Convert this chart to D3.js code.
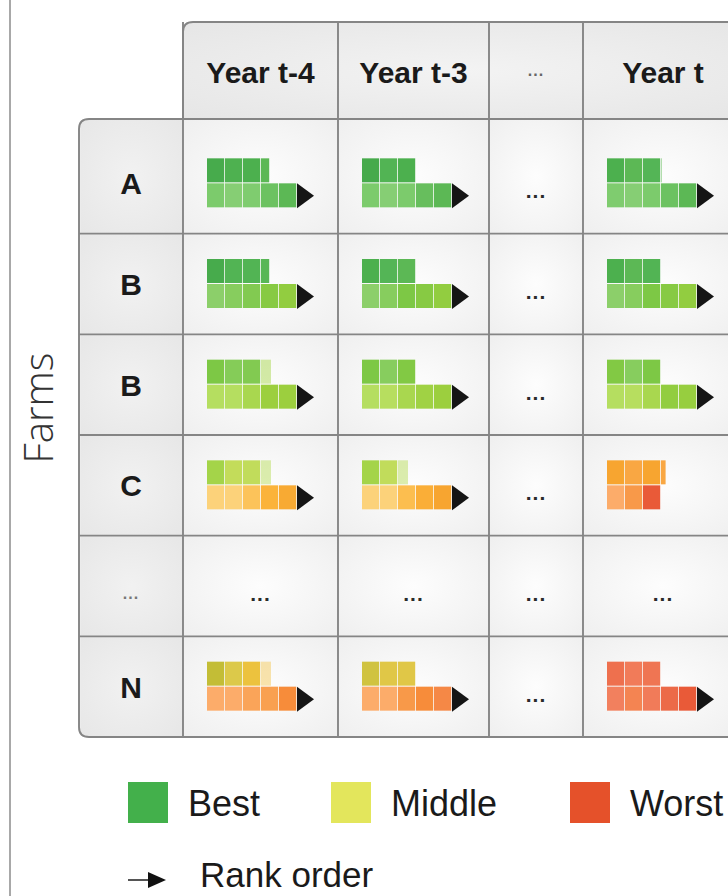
<!DOCTYPE html>
<html><head><meta charset="utf-8">
<script src="https://cdn.jsdelivr.net/npm/d3@7"></script>
<style>html,body{margin:0;padding:0;background:#fff;} svg{display:block}</style>
</head><body><svg id="chart" width="728" height="896"></svg>
<script>
// ---------------- DATA ----------------
const farms = ["A", "B", "B", "C", "...", "N"];
const years = ["Year t-4", "Year t-3", "...", "Year t"];
// rank score of each square: 0 = best ... 100 = worst (null = elided cell "...")
const topScores = [
  [[8, 11, 10, 18], [7, 13, 10], null, [10, 18, 14, 20]],
  [[8, 13, 13, 16], [10, 14, 18], null, [10, 18, 13]],
  [[36, 33, 34, 45], [36, 32, 37], null, [37, 32, 36]],
  [[44, 54, 53, 50], [44, 53, 50], null, [79, 80, 79, 80]],
  null,
  [[56, 60, 64, 67], [58, 61, 61], null, [94, 92, 93]]
];
// number of squares in the top row (fractional = partly filled last square)
const topCounts = [
  [3.5, 3.3, null, 3.1],
  [3.5, 3.3, null, 3.0],
  [3.6, 3.3, null, 3.0],
  [3.6, 2.6, null, 3.3],
  null,
  [3.6, 3.2, null, 3.0]
];
// last top square uncertain (faded)
const topFaded = [
  [false, false, null, true],
  [false, false, null, false],
  [true, false, null, false],
  [true, true, null, false],
  null,
  [true, false, null, false]
];
const bottomScores = [
  [[24, 27, 25, 21, 18], [24, 27, 24, 20, 18], null, [25, 27, 24, 21, 18]],
  [[30, 32, 34, 38, 40], [30, 32, 36, 38, 40], null, [30, 32, 36, 38, 40]],
  [[48, 48, 45, 42, 42], [48, 49, 45, 43, 42], null, [48, 49, 45, 40, 41]],
  [[70, 70, 73, 76, 78], [70, 70, 74, 77, 79], null, [82, 86, 98]],
  null,
  [[82, 82, 84, 85, 88], [82, 82, 86, 88, 89], null, [91, 90, 92, 95, 98]]
];
const rankArrow = [
  [true, true, null, true],
  [true, true, null, true],
  [true, true, null, true],
  [true, true, null, false],
  null,
  [true, true, null, true]
];
const legendLabels = ["Best", "Middle", "Worst"];
const arrowLabel = "Rank order";
const axisTitle = "Farms";

// ---------------- STYLE / LAYOUT ----------------
const scoreStops = [0, 8, 10, 14, 18, 24, 27, 30, 36, 42, 48, 54, 56, 60, 64, 70, 73, 76, 79, 82, 85, 88, 91, 95, 98, 100];
const scoreColors = ["#3e9f44", "#47ab4c", "#4cb04e", "#54b556", "#5cb855", "#7ccb6c", "#86ce74", "#8ccf6a",
  "#7dc845", "#9ccf3e", "#b5de60", "#c3dc5a", "#c3bd36", "#dcc94a", "#ecc23e", "#fcd27a", "#fcc35a",
  "#fbb33a", "#f7a530", "#fcac6a", "#f9a050", "#f78c3a", "#f2805e", "#ec6a48", "#e95a38", "#e4502a"];
const legendColors = ["#43b04b", "#e3e65c", "#e5512a"];
const legendX = [128, 331, 570];
const colWidths = [155, 151, 94, 160];
const tableX = 183, headTop = 22, bodyTop = 119, bodyBottom = 737, labelX = 79, tableRight = 745;
const sq = 18, glyphPad = 24, rowH = 24;
const lineCol = "#858585";
const FONT = "'Liberation Sans', Arial, Helvetica, sans-serif";

const color = d3.scaleLinear().domain(scoreStops).range(scoreColors).interpolate(d3.interpolateRgb);
const colStarts = d3.cumsum([0, ...colWidths.slice(0, -1)]).map(v => v + tableX);
const x = d3.scaleOrdinal().domain(d3.range(years.length)).range(colStarts);
const colW = d3.scaleOrdinal().domain(d3.range(years.length)).range(colWidths);
const y = d3.scaleBand().domain(d3.range(farms.length)).range([133, bodyBottom]).paddingInner(0);

const svg = d3.select("#chart");
const defs = svg.append("defs");
const cg = defs.append("radialGradient").attr("id", "cellBg").attr("cx", "50%").attr("cy", "50%").attr("r", "75%");
cg.append("stop").attr("offset", "0%").attr("stop-color", "#fdfdfd");
cg.append("stop").attr("offset", "100%").attr("stop-color", "#eeeeee");
const hg = defs.append("radialGradient").attr("id", "headBg").attr("cx", "50%").attr("cy", "50%").attr("r", "80%");
hg.append("stop").attr("offset", "0%").attr("stop-color", "#f3f3f3");
hg.append("stop").attr("offset", "100%").attr("stop-color", "#e4e4e4");

svg.append("rect").attr("width", 728).attr("height", 896).attr("fill", "#ffffff");
// page edge line
svg.append("line").attr("x1", 10).attr("x2", 10).attr("y1", 0).attr("y2", 896)
  .attr("stroke", "#a8a8a8").attr("stroke-width", 2);

const rowTop = i => i === 0 ? bodyTop : y(i);
const rowBot = i => i === farms.length - 1 ? bodyBottom : y(i) + y.bandwidth();

// header background (rounded top-left)
svg.append("path")
  .attr("d", `M${tableX},${bodyTop} V${headTop + 10} Q${tableX},${headTop} ${tableX + 10},${headTop} H${tableRight} V${bodyTop} Z`)
  .attr("fill", "url(#headBg)");
// label column background
svg.append("path")
  .attr("d", `M${tableX},${bodyTop} H${labelX + 10} Q${labelX},${bodyTop} ${labelX},${bodyTop + 10} V${bodyBottom - 10} Q${labelX},${bodyBottom} ${labelX + 10},${bodyBottom} H${tableX} Z`)
  .attr("fill", "#ebebeb");
svg.append("g").selectAll("rect").data(farms).join("rect")
  .attr("x", labelX + 2).attr("y", (d, i) => rowTop(i) + 1)
  .attr("width", tableX - labelX - 3).attr("height", (d, i) => rowBot(i) - rowTop(i) - 2)
  .attr("fill", "url(#headBg)").attr("opacity", 0.8);

// body cells
const cells = [];
farms.forEach((f, r) => years.forEach((yr, c) => cells.push({ r, c })));
svg.append("g").selectAll("rect").data(cells).join("rect")
  .attr("x", d => x(d.c)).attr("y", d => rowTop(d.r))
  .attr("width", d => colW(d.c)).attr("height", d => rowBot(d.r) - rowTop(d.r))
  .attr("fill", "url(#cellBg)");

// grid lines
const grid = svg.append("g").attr("stroke", lineCol).attr("stroke-width", 1.9).attr("fill", "none");
grid.selectAll("line.h").data(d3.range(1, farms.length)).join("line")
  .attr("x1", labelX).attr("x2", tableRight).attr("y1", i => y(i)).attr("y2", i => y(i));
grid.selectAll("line.v").data(d3.range(0, years.length)).join("line")
  .attr("x1", i => x(i)).attr("x2", i => x(i)).attr("y1", headTop).attr("y2", bodyBottom);
grid.append("line").attr("x1", tableX).attr("x2", tableRight).attr("y1", bodyTop).attr("y2", bodyTop);
grid.append("path")
  .attr("d", `M${tableX},${bodyTop} V${headTop + 10} Q${tableX},${headTop} ${tableX + 10},${headTop} H${tableRight}`);
grid.append("path")
  .attr("d", `M${tableX},${bodyTop} H${labelX + 10} Q${labelX},${bodyTop} ${labelX},${bodyTop + 10} V${bodyBottom - 10} Q${labelX},${bodyBottom} ${labelX + 10},${bodyBottom} H${tableRight}`);

// header labels
svg.append("g").selectAll("text").data(years).join("text")
  .attr("x", (d, i) => x(i) + colW(i) / 2)
  .attr("y", d => d === "..." ? 76 : 83)
  .attr("text-anchor", "middle")
  .attr("font-family", FONT).attr("font-weight", "bold")
  .attr("font-size", d => d === "..." ? 16 : 30)
  .attr("fill", d => d === "..." ? "#666" : "#1a1a1a")
  .attr("letter-spacing", d => d === "..." ? 1 : 0)
  .text(d => d);

// row labels
svg.append("g").selectAll("text").data(farms).join("text")
  .attr("x", (labelX + tableX) / 2)
  .attr("y", (d, i) => y(i) + y.bandwidth() / 2 + (d === "..." ? 13 : 11))
  .attr("text-anchor", "middle")
  .attr("font-family", FONT).attr("font-weight", "bold")
  .attr("font-size", d => d === "..." ? 16 : 30)
  .attr("fill", d => d === "..." ? "#777" : "#1a1a1a")
  .attr("letter-spacing", d => d === "..." ? 1 : 0)
  .text(d => d);

// cells content
const glyphs = svg.append("g");
cells.forEach(({ r, c }) => {
  const cx0 = x(c), cy = y(r) + y.bandwidth() / 2;
  const top = topScores[r] ? topScores[r][c] : null;
  if (!top) {
    glyphs.append("text").attr("x", cx0 + colW(c) / 2).attr("y", cy + 15)
      .attr("text-anchor", "middle").attr("font-family", FONT).attr("font-weight", "bold")
      .attr("font-size", 21).attr("letter-spacing", 1).attr("fill", "#2a2a2a").text("...");
    return;
  }
  const gx = cx0 + glyphPad;
  const count = topCounts[r][c];
  const faded = topFaded[r][c];
  const topData = top.map((s, i) => ({ s, i, w: Math.min(1, count - i) })).filter(d => d.w > 0);
  glyphs.append("g").selectAll("rect").data(topData).join("rect")
    .attr("x", d => gx + d.i * sq).attr("y", cy - rowH - 1)
    .attr("width", d => Math.max(1, d.w * sq - 0.8)).attr("height", rowH)
    .attr("fill", d => color(d.s))
    .attr("opacity", d => (d.w < 1 && faded) ? 0.5 : 1);
  const bot = bottomScores[r][c];
  glyphs.append("g").selectAll("rect").data(bot).join("rect")
    .attr("x", (d, i) => gx + i * sq).attr("y", cy)
    .attr("width", sq - 0.8).attr("height", rowH)
    .attr("fill", d => color(d));
  if (rankArrow[r][c]) {
    const ex = gx + bot.length * sq;
    glyphs.append("path")
      .attr("d", `M${ex},${cy} L${ex + 17},${cy + 12.5} L${ex},${cy + 25} Z`)
      .attr("fill", "#151515");
  }
});

// axis title
svg.append("text").attr("transform", "translate(53,408) rotate(-90)")
  .attr("text-anchor", "middle").attr("font-family", "'Open Sans', 'Liberation Sans', sans-serif")
  .attr("font-weight", 300).attr("font-size", 40).attr("fill", "#333").text(axisTitle);

// legend
const lg = svg.append("g");
lg.selectAll("rect").data(legendLabels).join("rect")
  .attr("x", (d, i) => legendX[i]).attr("y", 782).attr("width", 40).attr("height", 41)
  .attr("fill", (d, i) => legendColors[i]);
lg.selectAll("text").data(legendLabels).join("text")
  .attr("x", (d, i) => legendX[i] + 60).attr("y", 816)
  .attr("font-family", FONT).attr("font-size", 36).attr("fill", "#1a1a1a").text(d => d);
lg.append("line").attr("x1", 128).attr("x2", 152).attr("y1", 880).attr("y2", 880)
  .attr("stroke", "#555").attr("stroke-width", 2);
lg.append("path").attr("d", "M148,872 L166,880 L148,888 Z").attr("fill", "#111");
lg.append("text").attr("x", 200).attr("y", 887).attr("font-family", FONT).attr("font-size", 35)
  .attr("fill", "#1a1a1a").text(arrowLabel);
</script></body></html>
